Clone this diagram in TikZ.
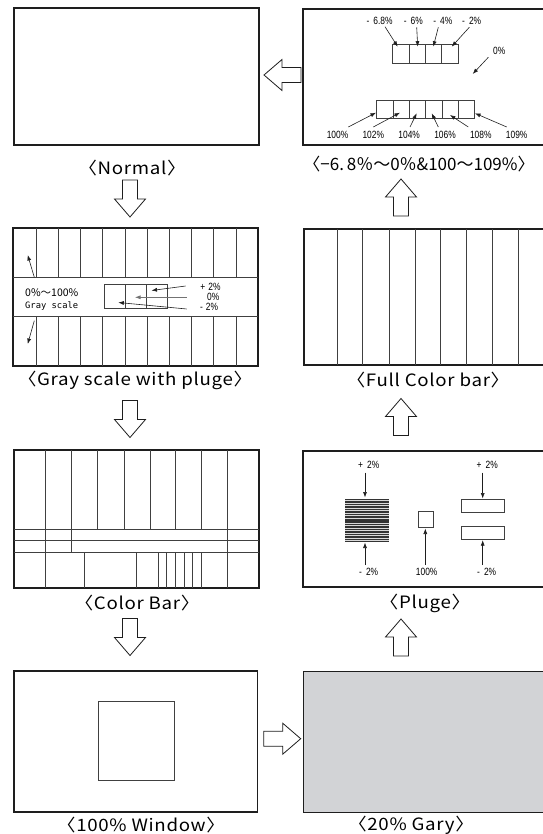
\documentclass[tikz,border=0pt]{standalone}
\usepackage{fontspec}
\setmainfont{Liberation Sans}
\newfontfamily\cjk[FakeStretch=1.1,LetterSpace=4]{Noto Sans CJK JP}
\newfontfamily\cjkplain{Noto Sans CJK JP}
\newfontfamily\narrowf[FakeStretch=0.8]{Liberation Sans}
\newfontfamily\monof{DejaVu Sans Mono}
\usetikzlibrary{arrows.meta}
\definecolor{grayfill}{RGB}{210,211,214}
\definecolor{ink}{RGB}{30,30,30}
\newcommand{\gp}{\hspace{4pt}}
\begin{document}
\begin{tikzpicture}[x=1pt,y=-1pt,
  panelbox/.style={draw=ink, line width=1.8pt, inner sep=0pt, outer sep=0pt, anchor=north west},
  innerline/.style={draw=ink!85, line width=0.7pt},
  captext/.style={font=\cjk\fontsize{17}{17}\selectfont, inner sep=0pt},
  smalltxt/.style={font=\narrowf\fontsize{10.5}{10.5}\selectfont, inner sep=0pt},
  ptr/.style={-{Latex[length=5.5pt,width=4pt]}, line width=0.6pt, draw=ink},
  hollowarrow/.style={draw=ink, line width=0.8pt, fill=white},
  harrow/.pic={\draw[hollowarrow] (0,-7.5) -- (19,-7.5) -- (19,-15.5) -- (37,0) -- (19,15.5) -- (19,7.5) -- (0,7.5) -- cycle;},
]
\useasboundingbox (0,0) rectangle (542,834);

% ---------- panels ----------
\node[panelbox, minimum width=245, minimum height=137] (normal) at (14,8) {};
\node[panelbox, minimum width=246, minimum height=136] (minus) at (303,9) {};
\node[panelbox, minimum width=245, minimum height=138] (grayscale) at (13,228) {};
\node[panelbox, minimum width=245, minimum height=136] (fullbar) at (304,229) {};
\node[panelbox, minimum width=245, minimum height=138] (colorbar) at (14,450) {};
\node[panelbox, minimum width=246, minimum height=136] (pluge) at (303,451) {};
\node[panelbox, minimum width=243.5, minimum height=141] (window) at (14,671) {};
\node[panelbox, minimum width=246, minimum height=141, fill=grayfill, line width=1pt] (gray20) at (303,671) {};

% ---------- captions ----------
\node[captext] (capnormal) at (132,168) {〈Normal〉};
\node[captext, font=\cjkplain\fontsize{17}{17}\selectfont] (capminus) at (419,164) {〈−6.\,8％～0％\&100～109\%〉};
\node[captext] (capgray) at (135,380) {〈Gray scale with pluge〉};
\node[captext] (capfull) at (428,380.5) {〈Full Color bar〉};
\node[captext] (capcolor) at (137,603) {〈Color Bar〉};
\node[captext] (cappluge) at (425,603) {〈Pluge〉};
\node[captext] (capwindow) at (141,825) {〈100\% Window〉};
\node[captext] (capgray20) at (411,825) {〈20\% Gary〉};

% ---------- hollow flow arrows ----------
\pic[rotate=180] at (301,75) {harrow};
\pic[rotate=-90] at (130,180) {harrow};
\pic[rotate=-90] at (130,400.5) {harrow};
\pic[rotate=-90] at (130,618.5) {harrow};
\pic at (263.7,738.7) {harrow};
\pic[rotate=90] at (401,656) {harrow};
\pic[rotate=90] at (401,435.5) {harrow};
\pic[rotate=90] at (401,216) {harrow};

% ---------- top right: -6.8% ... 109% ----------
\foreach \a/\b in {392.7/409,409/425.3,425.3/441.7,441.7/458.3}
  \draw[innerline] (\a,44.3) rectangle (\b,63.3);
\foreach \a/\b in {376.7/393,393/409.3,409.3/425.7,425.7/442,442/458.3,458.3/474.3}
  \draw[innerline] (\a,100) rectangle (\b,118.3);
\node[smalltxt] (m68) at (379.5,21) {-\gp 6.8\%};
\node[smalltxt] (m6) at (413.3,21) {-\gp 6\%};
\node[smalltxt] (m4) at (442.8,21) {-\gp 4\%};
\node[smalltxt] (m2) at (471.7,21) {-\gp 2\%};
\node[smalltxt] (z0) at (499.3,50.7) {0\%};
\coordinate (t1) at (397.7,46.7); \coordinate (t2) at (417.7,46.7);
\coordinate (t3) at (433.3,46.7); \coordinate (t4) at (451.7,46.7);
\coordinate (t0) at (472.7,74);
\draw[ptr] (385,26.7) -- (t1);
\draw[ptr] (416.7,27.3) -- (t2);
\draw[ptr] (438.3,27.3) -- (t3);
\draw[ptr] (469.3,27.3) -- (t4);
\draw[ptr] (488.3,57.3) -- (t0);
\node[smalltxt] (p100) at (337.5,135) {100\%};
\node[smalltxt] (p102) at (373.3,135) {102\%};
\node[smalltxt] (p104) at (409.2,135) {104\%};
\node[smalltxt] (p106) at (445,135) {106\%};
\node[smalltxt] (p108) at (480.8,135) {108\%};
\node[smalltxt] (p109) at (516.7,135) {109\%};
\draw[ptr] (348.3,127) -- (376,112.7);
\draw[ptr] (373.3,127) -- (400,112.7);
\draw[ptr] (410,127) -- (416.7,113.3);
\draw[ptr] (438.3,127) -- (431.7,113.3);
\draw[ptr] (468.3,127) -- (450,115);
\draw[ptr] (506.7,127) -- (475,113.3);

% ---------- gray scale with pluge ----------
\draw[innerline] (13,277.7) -- (258,277.7);
\draw[innerline] (13,316) -- (258,316);
\foreach \x in {36,58.3,80.7,102.7,125,147,169.3,191.7,213.7,236} {
  \draw[innerline] (\x,228) -- (\x,277.7);
  \draw[innerline] (\x,316) -- (\x,366);
}
\draw[innerline] (104.3,284) rectangle (167.7,308.5);
\draw[innerline] (125.3,284) -- (125.3,308.5);
\draw[innerline] (146.7,284) -- (146.7,308.5);
\node[font=\cjkplain\fontsize{10.5}{10.5}\selectfont, inner sep=0pt, anchor=west] (gs1) at (25,292.5) {0\%～100\%};
\node[font=\monof\fontsize{8.8}{8.8}\selectfont, inner sep=0pt, anchor=west] (gs2) at (25,306) {Gray scale};
\draw[ptr] (34.3,277.3) -- (27.7,255);
\draw[ptr] (34.3,320.7) -- (27.7,344);
\node[smalltxt] (gp) at (210.5,286.7) {+\hspace{3pt}2\%};
\node[smalltxt] (gz) at (213.3,297.3) {0\%};
\node[smalltxt] (gm) at (209,307.3) {-\hspace{3pt}2\%};
\draw[ptr] (185.7,286) -- (151.5,290.5);
\draw[ptr, draw=black!55] (186.7,297.3) -- (135,297.3);
\draw[ptr] (186.7,309) -- (118.3,302.5);

% ---------- full color bar ----------
\foreach \x in {337.3,362.7,389,415,440.7,466.7,492.3,518.3}
  \draw[innerline] (\x,229) -- (\x,365);

% ---------- color bar ----------
\foreach \x in {45.7,71.7,97.7,124,150,175.7,201.7,227.3}
  \draw[innerline] (\x,450) -- (\x,529.3);
\foreach \y in {529.3,540.7,552}
  \draw[innerline] (14,\y) -- (259,\y);
\foreach \x in {45.7,71.7,227.3}
  \draw[innerline] (\x,529.3) -- (\x,552);
\foreach \x in {45.7,84.7,136.7,158.7,166.7,175.7,184,192.7,201,227.3}
  \draw[innerline] (\x,552) -- (\x,588);

% ---------- pluge ----------
\fill[black!80] (345,498.5) rectangle (389,542);
\foreach \y in {500.5,503,505.5,508,510.5,513,515.5,518.5,523,525.5,528,530.5,533,535.5,538,540.5}
  \draw[white!85!black, line width=0.5pt] (345,\y) -- (389,\y);
\draw[innerline] (418.3,511.7) rectangle (433.7,527.3);
\draw[innerline] (461.3,499.3) rectangle (504.3,512.3);
\draw[innerline] (461.3,526.7) rectangle (504.3,539.3);
\node[smalltxt] (pl1) at (368.7,465) {+\gp 2\%};
\node[smalltxt] (pl2) at (368.7,572.3) {-\gp 2\%};
\node[smalltxt] (pl3) at (426.7,572.3) {100\%};
\node[smalltxt] (pl4) at (487.2,465) {+\gp 2\%};
\node[smalltxt] (pl5) at (486.7,572.3) {-\gp 2\%};
\draw[ptr] (365,472.5) -- (365,497.5);
\draw[ptr] (365,565) -- (365,542.5);
\draw[ptr] (425.3,565) -- (425.3,528.5);
\draw[ptr] (482.7,472.5) -- (482.7,498.5);
\draw[ptr] (482.7,565) -- (482.7,540.2);

% ---------- 100% window ----------
\draw[innerline] (98,701) rectangle (174,780);
\end{tikzpicture}
\end{document}
